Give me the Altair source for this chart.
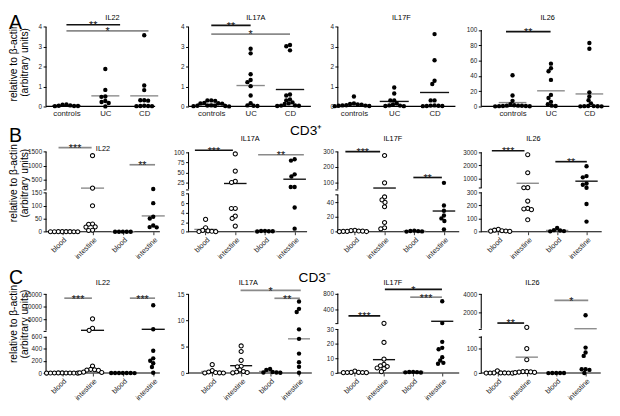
import json
import altair as alt
import numpy as np
import pandas as pd

# ---------------------------------------------------------------
# Values
# ---------------------------------------------------------------
A_GROUPS = ["controls", "UC", "CD"]
BC_GROUPS = ["blood", "intestine", "blood", "intestine"]

# ---- A: tissue expression, controls / UC / CD ----
A_IL22_controls = [0.02, 0.05, 0.10, 0.08, 0.03, 0.02, 0.01]
A_IL22_UC = [1.88, 0.83, 0.50, 0.48, 0.27, 0.22, 0.17, 0.0]
A_IL22_CD = [3.58, 1.05, 0.82, 0.31, 0.29, 0.31, 0.03, 0.02, 0.02, 0.01, 0.01]
A_IL22_means = [0.04, 0.53, 0.53]
A_IL22_sig = [("**", 0.0, 1.38, 4.11), ("*", 0.0, 2.11, 3.80)]

A_IL17A_controls = [0.30, 0.30, 0.28, 0.18, 0.16, 0.15, 0.14, 0.05, 0.04, 0.03, 0.03, 0.02, 0.01, 0.0]
A_IL17A_UC = [2.90, 2.67, 1.62, 1.33, 1.22, 1.02, 0.55, 0.16, 0.05, 0.03, 0.02]
A_IL17A_CD = [3.09, 3.03, 2.82, 0.60, 0.55, 0.35, 0.30, 0.20, 0.15, 0.12, 0.05, 0.04, 0.03, 0.02]
A_IL17A_means = [0.10, 1.05, 0.85]
A_IL17A_sig = [("**", 0.0, 1.0, 4.08), ("*", 0.0, 2.0, 3.64)]

A_IL17F_controls = [0.50, 0.15, 0.12, 0.10, 0.08, 0.06, 0.05, 0.04, 0.03, 0.02, 0.01]
A_IL17F_UC = [0.95, 0.65, 0.30, 0.30, 0.15, 0.10, 0.05, 0.04, 0.02, 0.01]
A_IL17F_CD = [3.64, 2.32, 1.29, 1.13, 0.30, 0.30, 0.05, 0.04, 0.03, 0.02, 0.02, 0.01]
A_IL17F_means = [0.07, 0.25, 0.70]
A_IL17F_sig = []

A_IL26_controls = [40.8, 14.3, 7.3, 3.0, 1.5, 1.0, 1.0, 0.8, 0.5, 0.5, 0.3, 0.2, 0.1]
A_IL26_UC = [56.0, 50.0, 46.0, 34.7, 15.0, 11.0, 6.0, 2.9, 1.0, 0.5]
A_IL26_CD = [83.0, 75.5, 18.4, 13.0, 8.0, 4.0, 0.5, 0.4, 0.3, 0.2, 0.1, 0.1]
A_IL26_means = [5.0, 20.4, 16.3]
A_IL26_sig = [("**", -0.17, 0.99, 98.0)]

# ---- B: CD3+ cells, blood / intestine (two series) ----
B_IL22_blood1 = [0.5, 0.4, 0.3, 0.3, 0.2, 0.2, 0.1, 0.1]
B_IL22_intestine1 = [1356, 200, 100, 30, 29, 19, 18, 6, 5]
B_IL22_blood2 = [0.3, 0.2, 0.2, 0.1, 0.1]
B_IL22_intestine2 = [167, 110, 58, 51, 24, 18, 17]
B_IL22_means = [0.2, 200, 0.2, 61]
B_IL22_sig = [("***", -0.12, 0.97, 1643), ("**", 2.22, 3.06, 1033)]

B_IL17A_blood1 = [2.6, 0.85, 0.3, 0.2, 0.1, 0.05, 0.02]
B_IL17A_intestine1 = [96, 54, 28.8, 26, 4.9, 4.9, 3.3, 2.8, 1.2]
B_IL17A_blood2 = [0.2, 0.15, 0.1, 0.1, 0.05]
B_IL17A_intestine2 = [83, 79.6, 46, 40.6, 15, 15, 5.1, 0.65]
B_IL17A_means = [0.5, 23.5, 0.1, 34]
B_IL17A_sig = [("***", -0.36, 0.92, 105), ("**", 1.77, 3.31, 94)]

B_IL17F_blood1 = [2.0, 1.5, 1.0, 0.8, 0.5, 0.5, 0.3, 0.2]
B_IL17F_intestine1 = [275, 96, 47, 43, 39.6, 33.8, 12.5, 5.4, 4.0]
B_IL17F_blood2 = [1.5, 1.0, 0.8, 0.5, 0.2]
B_IL17F_intestine2 = [96, 35.4, 28.3, 22, 18, 14.6, 3.3]
B_IL17F_means = [1.0, 62, 1.0, 28]
B_IL17F_sig = [("***", -0.32, 0.85, 300), ("**", 1.97, 2.93, 131)]

B_IL26_blood1 = [18, 12, 8, 6, 5, 3]
B_IL26_intestine1 = [2818, 1454, 330, 320, 233, 177, 173, 168, 91]
B_IL26_blood2 = [29, 12, 10, 5, 3]
B_IL26_intestine2 = [1950, 1200, 1110, 640, 545, 320, 211, 77]
B_IL26_means = [5, 660, 10, 818]
B_IL26_sig = [("***", -0.22, 0.89, 3120), ("**", 1.94, 3.01, 2293)]

# ---- C: CD3- cells, blood / intestine (two series) ----
C_IL22_blood1 = [2, 2, 1, 1, 1, 0.5, 0.5, 0.2, 0.1]
C_IL22_intestine1 = [5300, 1560, 800, 117, 60, 55, 50, 45, 15, 10, 5]
C_IL22_blood2 = [1, 1, 0.5, 0.5, 0.3, 0.2, 0.1]
C_IL22_intestine2 = [10625, 1200, 370, 244, 203, 162, 101, 5]
C_IL22_means = [0.5, 800, 0.5, 1200]
C_IL22_sig = [("***", 0.07, 0.98, 13400), ("***", 2.23, 3.06, 13400)]

C_IL17A_blood1 = [1.6, 0.47, 0.2, 0.1, 0.05, 0.02, 0.01]
C_IL17A_intestine1 = [5.15, 4.1, 2.4, 1.3, 1.2, 0.6, 0.3, 0.2, 0.1, 0.05]
C_IL17A_blood2 = [0.77, 0.6, 0.2, 0.1, 0.1, 0.05]
C_IL17A_intestine2 = [13.6, 12.2, 11.6, 8.3, 6.5, 3.7, 2.07, 1.2, 0.05]
C_IL17A_means = [0.3, 1.4, 0.3, 6.5]
C_IL17A_sig = [("*", 0.98, 3.06, 15.7), ("**", 2.15, 3.03, 14.2)]

C_IL17F_blood1 = [1.3, 0.5, 0.5, 0.4, 0.4, 0.3, 0.3]
C_IL17F_intestine1 = [65, 21, 9.6, 6, 5, 4.5, 3.5, 3, 1]
C_IL17F_blood2 = [0.8, 0.7, 0.6, 0.5, 0.4]
C_IL17F_intestine2 = [608, 71, 21.4, 17.3, 16.3, 10.9, 8.6, 7, 6.4]
C_IL17F_means = [0.5, 9.2, 0.6, 115]
C_IL17F_sig = [("***", -0.22, 0.87, 248), ("*", 1.03, 2.99, 899), ("***", 1.9, 2.99, 708)]

C_IL26_blood1 = [9, 1, 0.5, 0.5, 0.3, 0.2, 0.1, 0]
C_IL26_intestine1 = [310, 100, 54.5, 6, 6, 5, 4, 3, 2]
C_IL26_blood2 = [0.5, 0.3, 0.2, 0.1, 0]
C_IL26_intestine2 = [1655, 104, 84, 70, 15.6, 15.6, 13, 0.5]
C_IL26_means = [1, 65, 0, 160]
C_IL26_sig = [("**", 0.0, 0.91, 788), ("*", 1.94, 3.09, 3306)]

Y_TITLE = ["relative to β-actin", "(arbitrary units)"]

PANELS = [
    dict(title="IL22", groups=A_GROUPS, points=[A_IL22_controls, A_IL22_UC, A_IL22_CD], means=A_IL22_means, sig=A_IL22_sig),
    dict(title="IL17A", groups=A_GROUPS, points=[A_IL17A_controls, A_IL17A_UC, A_IL17A_CD], means=A_IL17A_means, sig=A_IL17A_sig),
    dict(title="IL17F", groups=A_GROUPS, points=[A_IL17F_controls, A_IL17F_UC, A_IL17F_CD], means=A_IL17F_means, sig=A_IL17F_sig),
    dict(title="IL26", groups=A_GROUPS, points=[A_IL26_controls, A_IL26_UC, A_IL26_CD], means=A_IL26_means, sig=A_IL26_sig),
    dict(title="IL22", groups=BC_GROUPS, points=[B_IL22_blood1, B_IL22_intestine1, B_IL22_blood2, B_IL22_intestine2], means=B_IL22_means, sig=B_IL22_sig),
    dict(title="IL17A", groups=BC_GROUPS, points=[B_IL17A_blood1, B_IL17A_intestine1, B_IL17A_blood2, B_IL17A_intestine2], means=B_IL17A_means, sig=B_IL17A_sig),
    dict(title="IL17F", groups=BC_GROUPS, points=[B_IL17F_blood1, B_IL17F_intestine1, B_IL17F_blood2, B_IL17F_intestine2], means=B_IL17F_means, sig=B_IL17F_sig),
    dict(title="IL26", groups=BC_GROUPS, points=[B_IL26_blood1, B_IL26_intestine1, B_IL26_blood2, B_IL26_intestine2], means=B_IL26_means, sig=B_IL26_sig),
    dict(title="IL22", groups=BC_GROUPS, points=[C_IL22_blood1, C_IL22_intestine1, C_IL22_blood2, C_IL22_intestine2], means=C_IL22_means, sig=C_IL22_sig),
    dict(title="IL17A", groups=BC_GROUPS, points=[C_IL17A_blood1, C_IL17A_intestine1, C_IL17A_blood2, C_IL17A_intestine2], means=C_IL17A_means, sig=C_IL17A_sig),
    dict(title="IL17F", groups=BC_GROUPS, points=[C_IL17F_blood1, C_IL17F_intestine1, C_IL17F_blood2, C_IL17F_intestine2], means=C_IL17F_means, sig=C_IL17F_sig),
    dict(title="IL26", groups=BC_GROUPS, points=[C_IL26_blood1, C_IL26_intestine1, C_IL26_blood2, C_IL26_intestine2], means=C_IL26_means, sig=C_IL26_sig),
]

# ---------------------------------------------------------------
# Layout and style (positions measured on the reference, in px)
# ---------------------------------------------------------------
K, G = "#111111", "#8a8a8a"
KX, KY = 0.972, 0.958
ROW_TOP = [2, 100, 234]
ROW_BOT = [100, 234, 384.5]
HALF = [0.36, 0.38, 0.38]
DOT = 4.0
OPEN_A = [False, False, False]
OPEN_BC = [True, True, False, False]
SEG_A = [(0, 4, (0, 100), (4, 15))]

LAYOUT = [
    dict(axis=40, nxt=186, end=155, x0=21.5, dx=41.0, segs=SEG_A, ticks=[0, 1, 2, 3, 4], blank=[], title=(110, 6),
         mc=[K, G, G], sc=[K, G], open=OPEN_A),
    dict(axis=186, nxt=343, end=315, x0=24, dx=41.5, segs=SEG_A, ticks=[0, 1, 2, 3, 4], blank=[], title=(257, 6),
         mc=[K, G, K], sc=[K, G], open=OPEN_A),
    dict(axis=343, nxt=483, end=467, x0=17, dx=42.5, segs=SEG_A, ticks=[0, 1, 2, 3, 4], blank=[], title=(410, 6),
         mc=[G, K, K], sc=[], open=OPEN_A),
    dict(axis=483, nxt=620, end=618, x0=33, dx=40.5, segs=[(0, 100, (0, 100), (100, 18.3))],
         ticks=[0, 20, 40, 60, 80, 100], blank=[], title=(553, 6), mc=[G, G, G], sc=[K], open=OPEN_A),
    dict(axis=40, nxt=190, end=160, x0=17, dx=32, segs=[(0, 150, (0, 234), (150, 192.3)), (155, 1500, (500, 178.3), (1500, 148.3))],
         ticks=[0, 50, 100, 150, 500, 1000, 1500], blank=[155], title=(100, 145), mc=[G, G, G, G], sc=[G, G], open=OPEN_BC),
    dict(axis=190, nxt=342, end=315, x0=18, dx=31.3, segs=[(0, 8, (0, 234), (8, 193.3)), (10, 100, (25, 181.7), (100, 149))],
         ticks=[0, 2, 4, 6, 8, 25, 50, 75, 100], blank=[10], title=(255, 135), mc=[G, K, G, K], sc=[K, G], open=OPEN_BC),
    dict(axis=342, nxt=492, end=470, x0=18, dx=31.3, segs=[(0, 50, (0, 234), (40, 202.3)), (55, 300, (100, 181), (300, 148.3))],
         ticks=[0, 20, 40, 100, 200, 300], blank=[50, 55], title=(400, 135), mc=[G, K, G, K], sc=[K, K], open=OPEN_BC),
    dict(axis=492, nxt=620, end=619, x0=18, dx=31, segs=[(0, 300, (0, 234), (300, 191.7)), (310, 3000, (1000, 177.3), (3000, 149))],
         ticks=[0, 100, 200, 300, 1000, 2000, 3000], blank=[310], title=(547, 135), mc=[G, G, G, K], sc=[K, K], open=OPEN_BC),
    dict(axis=40, nxt=185, end=160, x0=17, dx=32, segs=[(0, 600, (0, 384.5), (600, 345.7)), (700, 15000, (5000, 327.3), (15000, 300))],
         ticks=[0, 200, 400, 600, 5000, 10000, 15000], blank=[700], title=(100, 288), mc=[G, K, G, K], sc=[G, G], open=OPEN_BC),
    dict(axis=185, nxt=342, end=315, x0=25, dx=30.5, segs=[(0, 15, (0, 384.5), (15, 300))],
         ticks=[0, 5, 10, 15], blank=[], title=(248, 288), mc=[G, K, G, G], sc=[G, G], open=OPEN_BC),
    dict(axis=342, nxt=493, end=470, x0=18, dx=30.7, segs=[(0, 30, (0, 384.5), (30, 337.7)), (60, 800, (400, 316.7), (800, 299.3))],
         ticks=[0, 10, 20, 30, 400, 800], blank=[60], title=(400, 288), mc=[G, K, G, K], sc=[K, K, G], open=OPEN_BC),
    dict(axis=493, nxt=620, end=619, x0=17, dx=31, segs=[(0, 150, (0, 384.5), (100, 358.3)), (160, 4000, (2000, 319.3), (4000, 300))],
         ticks=[0, 100, 2000, 4000], blank=[150, 160], title=(547, 288), mc=[G, G, G, G], sc=[K, G], open=OPEN_BC),
]

# extra texts per cell: (text, x_ref, y_ref, size, align, baseline, angle)
EXTRAS = {
    0: [("A", 1, 17, 20, "left", "alphabetic", 0), (Y_TITLE, 6, 53, 10.5, "center", "middle", 270)],
    4: [("B", 1, 138, 20, "left", "alphabetic", 0), (Y_TITLE, 6, 182, 10.5, "center", "middle", 270)],
    5: [("CD3⁺", 297, 131, 14, "left", "alphabetic", 0)],
    8: [("C", 1, 289, 20, "left", "alphabetic", 0), (Y_TITLE, 6, 332, 10.5, "center", "middle", 270)],
    9: [("CD3⁻", 301, 287, 14, "left", "alphabetic", 0)],
}

ONE = pd.DataFrame({"k": [0]})


def swarm(ypx, d):
    """beeswarm offsets (px) so that dots of one group do not pile up"""
    order = sorted(range(len(ypx)), key=lambda i: ypx[i])
    placed, out = [], [0.0] * len(ypx)
    for i in order:
        y = ypx[i]
        cands = [0.0]
        for px, py in placed:
            dy = y - py
            if abs(dy) < d:
                h = (d * d - dy * dy) ** 0.5
                cands += [px + h, px - h]
        cands.sort(key=lambda c: (abs(c), c))
        for c in cands:
            if all((c - px) ** 2 + (y - py) ** 2 >= d * d - 1e-6 for px, py in placed):
                out[i] = c
                placed.append((c, y))
                break
    return out


def text_layer(text, x, y, size, align, baseline, angle):
    kw = dict(text=text, fontSize=size, align=align, baseline=baseline, color="black")
    if angle:
        kw["angle"] = angle
        kw["lineHeight"] = 11.5
    return alt.Chart(ONE).mark_text(**kw).encode(x=alt.value(x), y=alt.value(y))


def build_cell(i):
    P, L = PANELS[i], LAYOUT[i]
    r = i // 4
    top = ROW_TOP[r]
    H = (ROW_BOT[r] - top) * KY
    W = (L["nxt"] - L["axis"]) * KX

    def ly(yr):
        return (yr - top) * KY

    def lx(xr):
        return (xr - L["axis"]) * KX

    dom, rng = [], []
    for lo, hi, (v1, y1), (v2, y2) in L["segs"]:
        for v in (lo, hi):
            dom.append(v)
            rng.append(round(ly(y1 + (v - v1) * (y2 - y1) / (v2 - v1)), 2))
    ux = L["dx"] * KX
    xdom = [-L["x0"] / L["dx"], (L["nxt"] - L["axis"] - L["x0"]) / L["dx"]]
    groups = P["groups"]
    ng = len(groups)
    names = "[" + ",".join("'%s'" % g for g in groups) + "]"
    if r == 0:
        xaxis = alt.Axis(values=list(range(ng)), labelExpr=names + "[datum.value]", domain=False, ticks=False,
                         grid=False, labelAngle=0, labelFontSize=8, labelPadding=3, labelColor="#222",
                         labelOverlap=False)
    else:
        xaxis = alt.Axis(values=list(range(ng)), labelExpr=names + "[datum.value]", domain=False, ticks=True,
                         tickSize=3, tickColor="#333", grid=False, labelAngle=315, labelFontSize=7.5,
                         labelPadding=1, labelColor="#222", labelOverlap=False)
    blank = L["blank"]
    yaxis = alt.Axis(values=sorted(L["ticks"] + blank), format="d",
                     labelExpr="indexof(%s, datum.value) >= 0 ? '' : datum.label" % json.dumps(blank),
                     domain=False, grid=False, tickSize=3, tickColor="black", labelFontSize=6.5,
                     labelPadding=1.5, labelColor="#222", labelOverlap=False)
    xscale = alt.Scale(domain=xdom, zero=False, nice=False)
    yscale = alt.Scale(domain=dom, range=rng, zero=False, nice=False)

    def X(f):
        return alt.X(f, type="quantitative", scale=xscale, axis=xaxis, title="")

    def Y(f):
        return alt.Y(f, type="quantitative", scale=yscale, axis=yaxis, title="")

    # points
    rows = []
    for g, vals in enumerate(P["points"]):
        ypx = [float(np.interp(v, dom, rng)) for v in vals]
        offs = swarm(ypx, DOT)
        for v, o in zip(vals, offs):
            rows.append({"x": g + o / ux, "y": v, "open": L["open"][g]})
    pts = pd.DataFrame(rows)
    segdf = pd.DataFrame([{"lo": s[0], "hi": s[1]} for s in L["segs"]])
    h = HALF[r]
    mdf = pd.DataFrame([{"x1": g - h, "x2": g + h, "y": m, "c": L["mc"][g]} for g, m in enumerate(P["means"])])

    layers = [
        alt.Chart(segdf).mark_rule(color="black", strokeWidth=1.1).encode(
            x=alt.value(0), y=Y("lo"), y2=alt.Y2("hi")),
        alt.Chart(ONE).mark_rule(color="black", strokeWidth=1.1).encode(
            x=alt.value(0), x2=alt.value(round(lx(L["end"]), 2)), y=alt.value(round(H, 2))),
        alt.Chart(mdf).mark_rule(strokeWidth=1.4).encode(
            x=X("x1"), x2=alt.X2("x2"), y=Y("y"), color=alt.Color("c:N", scale=None)),
    ]
    if P["sig"]:
        sdf = pd.DataFrame([{"x1": s, "x2": e, "xm": (s + e) / 2, "y": y, "s": st, "c": L["sc"][k]}
                            for k, (st, s, e, y) in enumerate(P["sig"])])
        layers += [
            alt.Chart(sdf).mark_rule(strokeWidth=1.7).encode(
                x=X("x1"), x2=alt.X2("x2"), y=Y("y"), color=alt.Color("c:N", scale=None)),
            alt.Chart(sdf).mark_text(fontSize=11, baseline="alphabetic", dy=4.5, align="center", color="#111").encode(
                x=X("xm"), y=Y("y"), text="s:N"),
        ]
    filled = pts[~pts["open"]]
    hollow = pts[pts["open"]]
    if len(filled):
        layers.append(alt.Chart(filled).mark_point(shape="circle", filled=True, size=20, color="black", opacity=1)
                      .encode(x=X("x"), y=Y("y")))
    if len(hollow):
        layers.append(alt.Chart(hollow).mark_point(shape="circle", filled=False, size=18, stroke="black",
                                                   strokeWidth=1.05, fill="white", fillOpacity=1, opacity=1)
                      .encode(x=X("x"), y=Y("y")))
    tx, ty = L["title"]
    layers.append(text_layer(P["title"], lx(tx), ly(ty), 7.5, "center", "middle", 0))
    for (t, xr, yr, size, al, bl, ang) in EXTRAS.get(i, []):
        layers.append(text_layer(t, lx(xr), ly(yr), size, al, bl, ang))
    return alt.layer(*layers).properties(width=round(W, 2), height=round(H, 2))


cells = [build_cell(i) for i in range(12)]

chart = alt.concat(*cells, columns=4, spacing=0, align="none", bounds="flush", padding=0).configure(
    font="Liberation Sans").configure_view(strokeWidth=0)

chart.save("out.html", embed_options={"renderer": "svg", "actions": False})
